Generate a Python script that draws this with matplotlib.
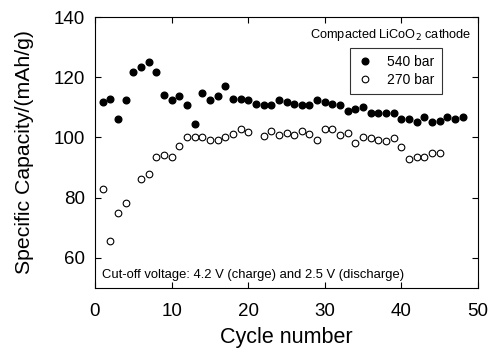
import matplotlib.pyplot as plt

plt.rcParams["font.family"] = ["Liberation Sans", "DejaVu Sans"]

cycles_540 = list(range(1, 49))
cap_540 = [111.8, 112.8, 106.1, 112.4, 121.6, 123.3, 124.9, 121.6, 114.1, 112.4,
           113.6, 110.8, 104.3, 114.7, 112.4, 113.6, 117.0, 112.9, 112.9, 112.4,
           111.2, 110.7, 110.7, 112.4, 111.9, 111.2, 110.7, 110.7, 112.4, 111.8,
           111.2, 110.7, 108.9, 109.4, 110.0, 108.2, 108.2, 108.2, 108.2, 106.2,
           106.2, 105.0, 106.7, 105.0, 105.6, 106.7, 106.2, 106.9]

cycles_270 = [1, 2, 3, 4, 6, 7, 8, 9, 10, 11, 12, 13, 14, 15, 16, 17, 18, 19, 20,
              22, 23, 24, 25, 26, 27, 28, 29, 30, 31, 32, 33, 34, 35, 36, 37, 38,
              39, 40, 41, 42, 43, 44, 45]
cap_270 = [82.8, 65.6, 74.8, 78.2, 86.2, 87.9, 93.6, 94.1, 93.6, 97.0, 100.0,
           100.0, 100.0, 99.3, 99.3, 100.0, 101.0, 102.9, 101.7,
           100.4, 102.1, 100.9, 101.6, 100.9, 102.1, 101.0, 99.2, 102.7, 102.7,
           100.9, 101.4, 98.1, 100.3, 99.8, 99.2, 98.7, 99.8, 96.9, 92.9, 93.4,
           93.4, 95.0, 95.0]

fig = plt.figure(figsize=(4.91, 3.51), dpi=100)
ax = fig.add_axes([95 / 491, 1 - 288 / 351, (478 - 95) / 491, (288 - 17) / 351])

ax.plot(cycles_540, cap_540, "o", color="black", ms=4.8, label="540 bar")
ax.plot(cycles_270, cap_270, "o", mfc="white", mec="black", mew=0.8, ms=4.8,
        label="270 bar")

ax.set_xlim(0, 50)
ax.set_ylim(50, 140)
ax.set_xticks(range(0, 51, 10))
ax.set_yticks(range(60, 141, 20))
ax.tick_params(direction="in", top=True, right=True, labelsize=13.5, length=4)
ax.tick_params(axis="x", pad=11)
ax.tick_params(axis="y", pad=7)
ax.set_xlabel("Cycle number", fontsize=15.5, labelpad=5)
ax.set_ylabel("Specific Capacity/(mAh/g)", fontsize=15.3, labelpad=14)

ax.text(0.982, 0.935, "Compacted LiCoO$_2$ cathode", transform=ax.transAxes,
        ha="right", va="center", fontsize=9.2)
ax.text(0.018, 0.048, "Cut-off voltage: 4.2 V (charge) and 2.5 V (discharge)",
        transform=ax.transAxes, ha="left", va="center", fontsize=9.4)

leg = ax.legend(loc="upper right", bbox_to_anchor=(0.905, 0.887), fontsize=10,
                frameon=True, fancybox=False, edgecolor="black",
                handlelength=1.2, handletextpad=1.0, borderpad=0.5,
                labelspacing=0.3, borderaxespad=0)
leg.get_frame().set_linewidth(0.8)

fig.savefig("out.png", dpi=100)
